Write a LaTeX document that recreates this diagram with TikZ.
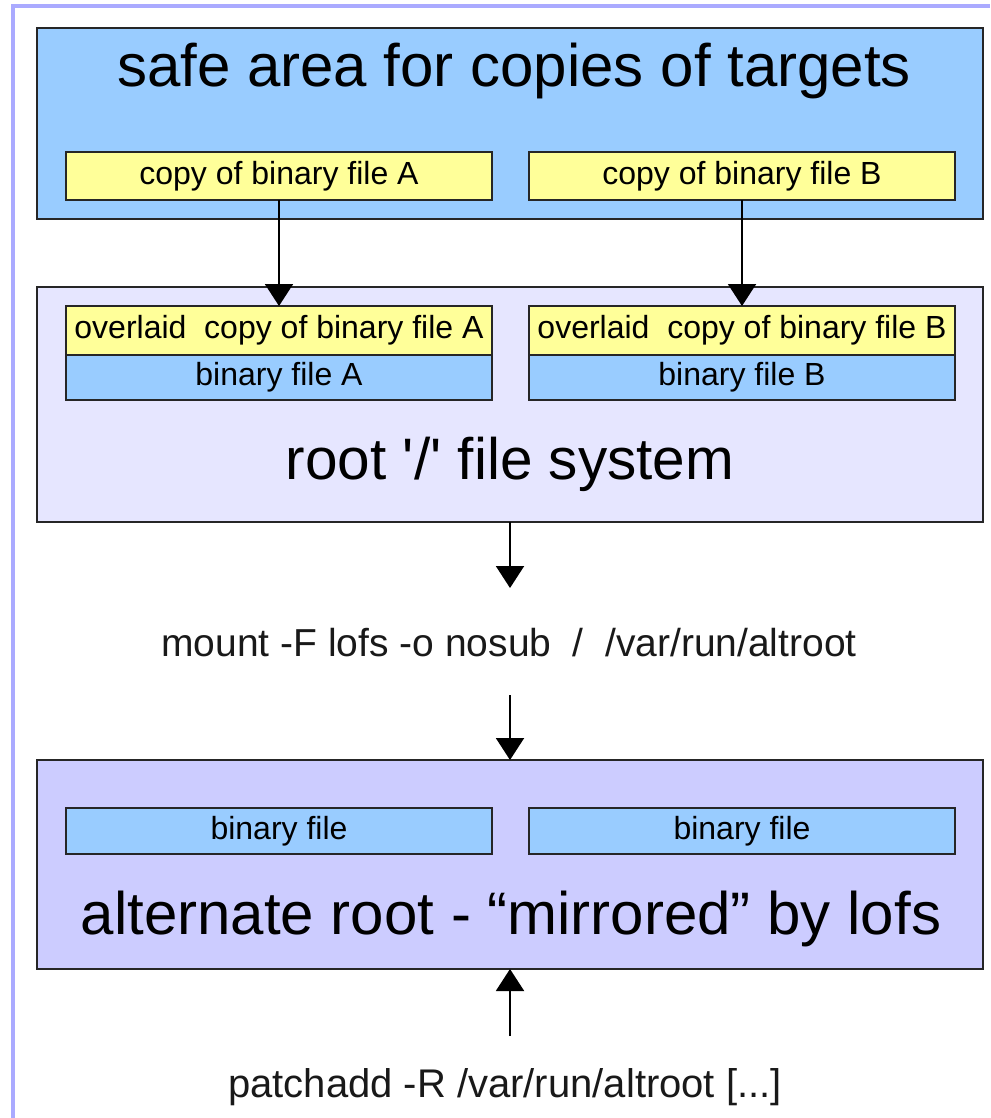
\documentclass[tikz,border=0pt]{standalone}
\usepackage{fontspec}
\setmainfont{Liberation Sans}[Ligatures=TeXOff]
\usepackage{tikz}
\usetikzlibrary{arrows.meta}
\usetikzlibrary{positioning}

\definecolor{safeblue}{HTML}{99CCFF}
\definecolor{fileyellow}{HTML}{FFFF99}
\definecolor{rootlav}{HTML}{E6E6FF}
\definecolor{altlav}{HTML}{CCCCFF}
\definecolor{framelav}{HTML}{AAAAFF}

\begin{document}
\begin{tikzpicture}[x=1pt, y=-1pt,
    area/.style={rectangle, draw=black!85, line width=2pt, anchor=north west, minimum width=946pt, outer sep=0pt},
    filebox/.style={rectangle, draw=black!85, line width=2pt, inner sep=0pt, outer sep=0pt,
        minimum width=426pt, minimum height=48pt, font=\fontsize{32}{32}\selectfont},
    yellowfile/.style={filebox, fill=fileyellow},
    bluefile/.style={filebox, fill=safeblue},
    bigtext/.style={anchor=base, inner sep=0pt, font=\fontsize{60}{60}\selectfont},
    cmdtext/.style={anchor=base, inner sep=0pt, text=black!90, font=\fontsize{39}{39}\selectfont},
    flow/.style={draw, line width=2pt, -{Triangle[width=28pt,length=22pt]}}
    ]
    \useasboundingbox (0,0) rectangle (990,1118);
    % frame lines on the page
    \draw[framelav, line width=4pt] (12.5,1118) -- (12.5,6.5) -- (990,6.5);

    % the three areas
    \node[area, fill=safeblue, minimum height=191pt] (safe) at (37,28) {};
    \node[area, fill=rootlav, minimum height=235pt] (rootfs) at (37,287) {};
    \node[area, fill=altlav, minimum height=209pt] (altroot) at (37,760) {};

    \node[bigtext] (safetitle) at (514,87) {safe area for copies of targets};
    \node[bigtext, font=\fontsize{58.5}{58.5}\selectfont] (roottitle) at (510,479) {root '/' file system};
    \node[bigtext] (alttitle) at (511,934) {alternate root - “mirrored” by lofs};

    % copies in the safe area
    \node[yellowfile] (copyA) at (279,176) {copy of binary file A};
    \node[yellowfile] (copyB) at (742,176) {copy of binary file B};

    % overlaid files in the root file system
    \node[yellowfile, minimum height=49pt] (ovlA) at (279,330.5) {overlaid\ \ copy of binary file A};
    \node[bluefile, minimum height=45pt, below=0pt of ovlA] (binA) {binary file A};
    \node[yellowfile, minimum height=49pt] (ovlB) at (742,330.5) {overlaid\ \ copy of binary file B};
    \node[bluefile, minimum height=45pt, below=0pt of ovlB] (binB) {binary file B};

    % files in the alternate root
    \node[bluefile, minimum height=46pt] (altA) at (279,831) {binary file};
    \node[bluefile, minimum height=46pt] (altB) at (742,831) {binary file};

    % commands
    \node[cmdtext] (mount) at (509,656) {mount -F lofs -o nosub\hspace{0.55em}/\hspace{0.55em}/var/run/altroot};
    \node[cmdtext, font=\fontsize{40}{40}\selectfont] (patchadd) at (505,1097) {patchadd -R /var/run/altroot [...]};
    \coordinate (mountin) at (510,588);
    \coordinate (mountout) at (510,695);
    \coordinate (patchout) at (510,1036);

    \path[every edge/.style={flow}]
    (copyA) edge (ovlA)
    (copyB) edge (ovlB)
    (rootfs) edge (mountin)
    (mountout) edge (altroot)
    (patchout) edge (altroot)
    ;
\end{tikzpicture}
\end{document}
